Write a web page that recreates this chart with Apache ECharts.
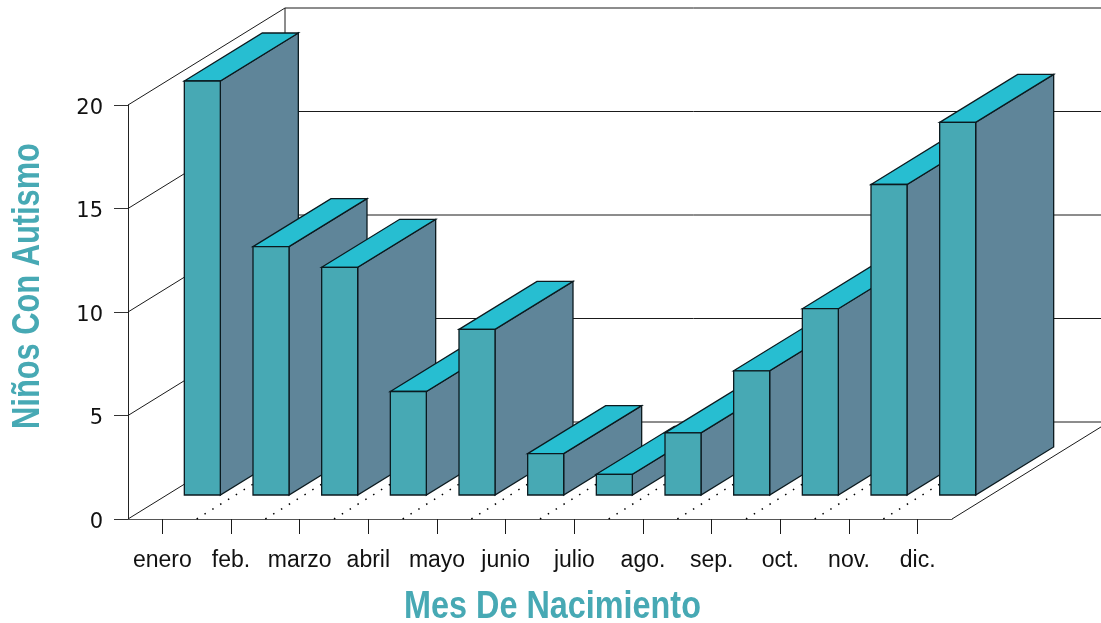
<!DOCTYPE html>
<html>
<head>
<meta charset="utf-8">
<script src="https://cdn.jsdelivr.net/npm/echarts@6/dist/echarts.min.js"></script>
<style>
html,body{margin:0;padding:0;background:#fff}
#chart{width:1101px;height:623px}
</style>
</head>
<body>
<div id="chart"></div>
<script>
var categories = ['enero','feb.','marzo','abril','mayo','junio','julio','ago.','sep.','oct.','nov.','dic.'];
var ninos = [20,12,11,5,8,2,1,3,6,9,15,18];
var yTicks = [0,5,10,15,20];
var xTitle = 'Mes De Nacimiento';
var yTitle = 'Niños Con Autismo';

var chart = echarts.init(document.getElementById('chart'));

// depth of the box the chart sits in, and of the bars inside it
var wallDx = 157, wallDy = -97;
var barDx = 78, barDy = -48;
var barFrontDx = 22, barFrontDy = -24, barW = 36;

var lineStyle = {stroke:'#1a1a1a',lineWidth:1,fill:null};
var titleStyle = {fill:'#47a9b4',fontSize:39,fontWeight:'bold',fontFamily:'Liberation Sans',align:'center',verticalAlign:'middle'};

function wallItem(params,api){
    var v = api.value(0);
    var p = api.coord([0,v]);
    var cs = params.coordSys;
    var x0 = cs.x, bx = x0+wallDx, by = p[1]+wallDy;
    var kids = [
        {type:'polyline',shape:{points:[[x0,p[1]],[bx,by],[1110,by]]},style:lineStyle}
    ];
    if(v === yTicks[yTicks.length-1]){
        var by0 = cs.y+cs.height+wallDy;
        kids.push({type:'line',shape:{x1:bx,y1:by,x2:bx,y2:by0},style:lineStyle});
        kids.push({type:'line',shape:{x1:x0+cs.width,y1:cs.y+cs.height,x2:x0+cs.width+wallDx,y2:by0},style:lineStyle});
    }
    return {type:'group',children:kids};
}

function floorItem(params,api){
    var i = api.value(0);
    var p = api.coord([i,0]);
    var x = p[0]+api.size([1,0])[0]/2;
    return {type:'line',
        shape:{x1:x,y1:p[1],x2:x+wallDx,y2:p[1]+wallDy},
        style:{stroke:'#000',lineWidth:1.5,lineDash:[1.5,7.7],fill:null}};
}

function barItem(params,api){
    var p0 = api.coord([api.value(0),0]);
    var p1 = api.coord([api.value(0),api.value(1)]);
    var l = p0[0]+barFrontDx, r = l+barW;
    var b = p0[1]+barFrontDy, t = p1[1]+barFrontDy;
    var edge = {stroke:'#0b1a1f',lineWidth:1.3};
    return {type:'group',children:[
        {type:'polygon',shape:{points:[[r,t],[r+barDx,t+barDy],[r+barDx,b+barDy],[r,b]]},
            style:Object.assign({fill:'#5f8599'},edge)},
        {type:'polygon',shape:{points:[[l,t],[l+barDx,t+barDy],[r+barDx,t+barDy],[r,t]]},
            style:Object.assign({fill:'#27bed1'},edge)},
        {type:'rect',shape:{x:l,y:t,width:barW,height:b-t},
            style:Object.assign({fill:'#47a9b4'},edge)}
    ]};
}

chart.setOption({
    animation:false,
    backgroundColor:'#fff',
    grid:{left:128,top:105,width:824,height:414,outerBoundsMode:'none'},
    xAxis:{
        type:'category',
        data:categories,
        boundaryGap:true,
        axisLine:{show:true,lineStyle:{color:'#555',width:1}},
        axisTick:{show:true,alignWithLabel:true,length:15,lineStyle:{color:'#1a1a1a',width:1}},
        axisLabel:{interval:0,margin:30,color:'#111',fontSize:23,fontFamily:'Liberation Sans'},
        splitLine:{show:false}
    },
    yAxis:{
        type:'value',
        min:0,
        max:20,
        interval:5,
        axisLine:{show:true,lineStyle:{color:'#222',width:1}},
        axisTick:{show:true,length:14,lineStyle:{color:'#333',width:1}},
        axisLabel:{margin:25,verticalAlign:'top',padding:[-7,0,0,0],color:'#111',fontSize:21,fontFamily:'DejaVu Sans'},
        splitLine:{show:false}
    },
    // no narrow bold font is installed, so the titles are squeezed horizontally
    graphic:[
        {type:'text',x:552.5,y:607,scaleX:0.83,silent:true,
            style:Object.assign({text:xTitle},titleStyle)},
        {type:'text',x:28,y:286,rotation:Math.PI/2,scaleX:0.79,silent:true,
            style:Object.assign({text:yTitle},titleStyle)}
    ],
    series:[
        {type:'custom',name:'paredes',coordinateSystem:'cartesian2d',clip:false,silent:true,
            data:yTicks.map(function(v){return [v];}),encode:{y:0},renderItem:wallItem},
        {type:'custom',name:'suelo',coordinateSystem:'cartesian2d',clip:false,silent:true,
            data:categories.slice(0,-1).map(function(c,i){return [i];}),encode:{x:0},renderItem:floorItem},
        {type:'custom',name:'Niños',coordinateSystem:'cartesian2d',clip:false,
            data:ninos.map(function(v,i){return [i,v];}),encode:{x:0,y:1},renderItem:barItem}
    ]
});
window.addEventListener('resize',function(){chart.resize();});
</script>
</body>
</html>
